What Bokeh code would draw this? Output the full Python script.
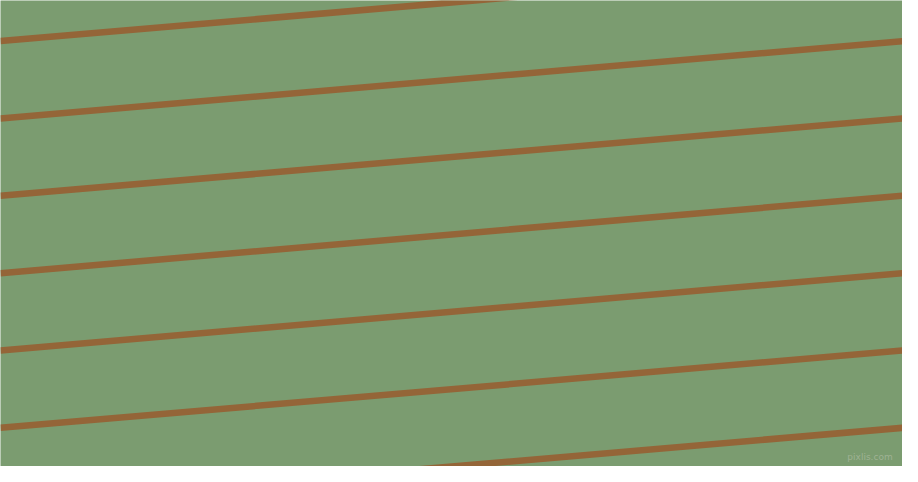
from bokeh.plotting import figure
from bokeh.models import Range1d
from bokeh.embed import file_html
from bokeh.resources import INLINE
from bokeh.core.properties import value

# Stripe pattern data: y position of each stripe's centre at left and right edges
stripe_left_y = [42, 122, 202, 282, 362, 442, 522]
stripe_right_y = [-38, 42, 122, 202, 282, 362, 442]
x_left = 0
x_right = 918
watermark = ["pixlis.com"]

BG = "#7b9c70"
STRIPE = "#946538"

p = figure(width=902, height=466, output_backend="svg", toolbar_location=None,
           x_range=Range1d(0, 918), y_range=Range1d(482, 0),
           min_border=0, min_border_left=0, min_border_right=0,
           min_border_top=0, min_border_bottom=0)
p.axis.visible = False
p.grid.visible = False
p.outline_line_color = None
p.background_fill_color = BG
p.border_fill_color = BG

p.segment(x0=[x_left] * len(stripe_left_y), y0=stripe_left_y,
          x1=[x_right] * len(stripe_right_y), y1=stripe_right_y,
          line_color=STRIPE, line_width=6.5, line_cap="butt")

p.text(x=[908], y=[477], text=watermark, text_align="right",
       text_baseline="bottom", text_font=value("DejaVu Sans"),
       text_font_size="9px", text_color="#a3b598", text_alpha=0.9)

open("out.html", "w").write(file_html(p, INLINE))
